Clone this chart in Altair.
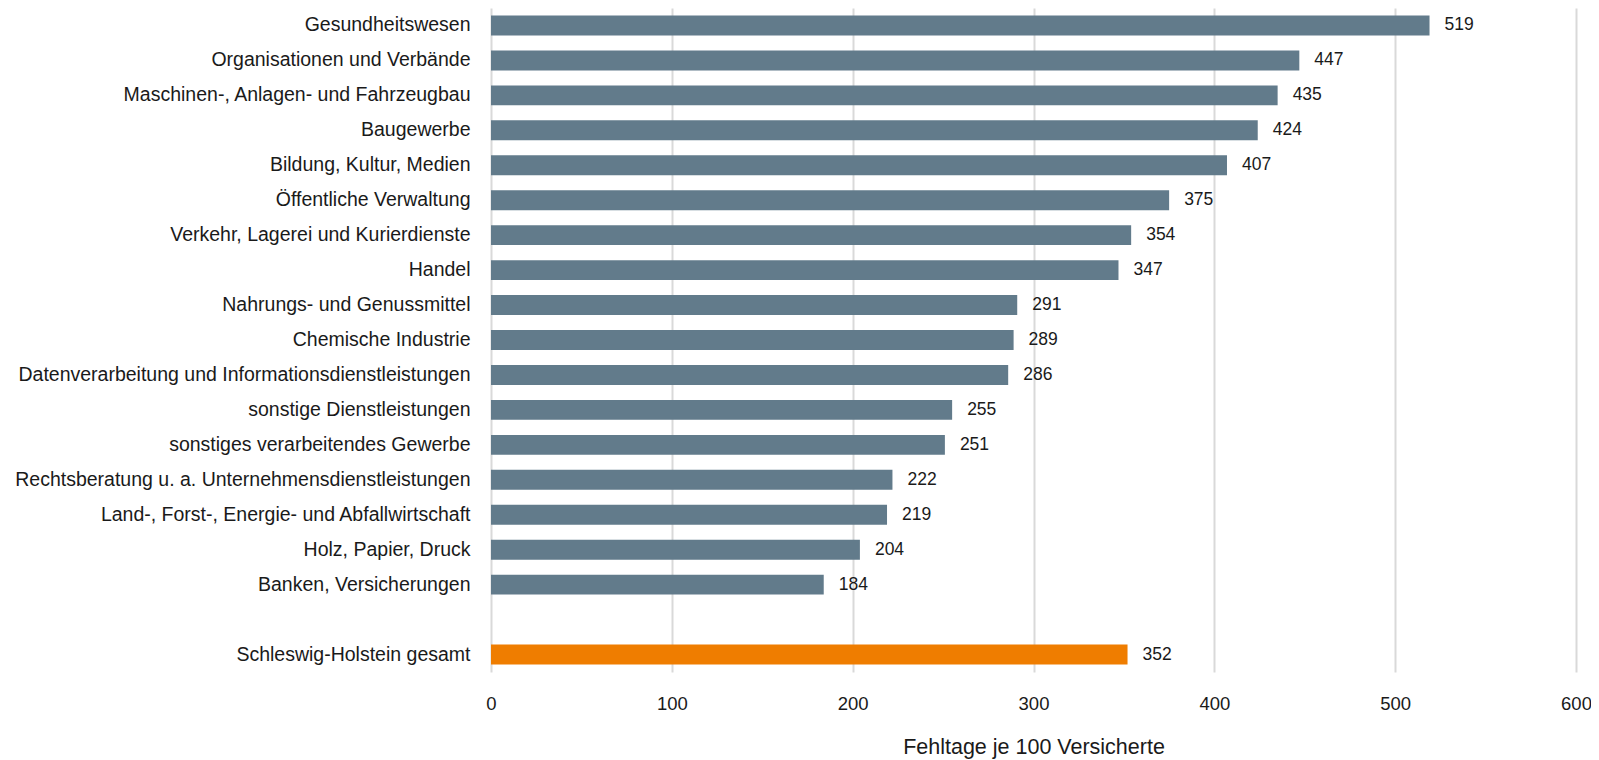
import altair as alt
import pandas as pd

categories = [
    "Gesundheitswesen",
    "Organisationen und Verbände",
    "Maschinen-, Anlagen- und Fahrzeugbau",
    "Baugewerbe",
    "Bildung, Kultur, Medien",
    "Öffentliche Verwaltung",
    "Verkehr, Lagerei und Kurierdienste",
    "Handel",
    "Nahrungs- und Genussmittel",
    "Chemische Industrie",
    "Datenverarbeitung und Informationsdienstleistungen",
    "sonstige Dienstleistungen",
    "sonstiges verarbeitendes Gewerbe",
    "Rechtsberatung u. a. Unternehmensdienstleistungen",
    "Land-, Forst-,  Energie- und Abfallwirtschaft",
    "Holz, Papier, Druck",
    "Banken, Versicherungen",
    "Schleswig-Holstein gesamt",
]
values = [519, 447, 435, 424, 407, 375, 354, 347, 291, 289, 286, 255, 251, 222, 219, 204, 184, 352]
groups = ["Branche"] * 17 + ["Gesamt"]

domain = categories[:17] + [" "] + categories[17:]

df = pd.DataFrame({"cat": categories, "val": values, "grp": groups})

FONT = "Liberation Sans, Arial, sans-serif"

y_enc = alt.Y(
    "cat:N",
    sort=domain,
    scale=alt.Scale(domain=domain, paddingInner=0.43, paddingOuter=0.215),
    axis=alt.Axis(
        title=None,
        labelFont=FONT,
        labelFontSize=19.5,
        labelColor="#1a1a1a",
        labelPadding=21,
        ticks=False,
        domain=False,
        grid=False,
        labelLimit=600,
    ),
)

bars = alt.Chart(df).mark_bar().encode(
    x=alt.X(
        "val:Q",
        scale=alt.Scale(domain=[0, 600], nice=False),
        axis=alt.Axis(
            title="Fehltage je 100 Versicherte",
            titleFont=FONT,
            titleFontSize=21.5,
            titleFontWeight="normal",
            titleColor="#1a1a1a",
            titlePadding=24,
            labelFont=FONT,
            labelFontSize=18.5,
            labelColor="#1a1a1a",
            labelPadding=22,
            labelFlush=False,
            values=[0, 100, 200, 300, 400, 500, 600],
            ticks=False,
            domain=False,
            grid=True,
            gridColor="#d9d9d9",
            gridWidth=2,
        ),
    ),
    y=y_enc,
    color=alt.Color(
        "grp:N",
        scale=alt.Scale(domain=["Branche", "Gesamt"], range=["#627b8b", "#ef7d00"]),
        legend=None,
    ),
)

labels = alt.Chart(df).mark_text(
    align="left", baseline="middle", dx=15, font=FONT, fontSize=17.5, color="#1a1a1a"
).encode(
    x=alt.X("val:Q"),
    y=alt.Y("cat:N", sort=domain),
    text=alt.Text("val:Q"),
)

chart = (
    alt.layer(bars, labels, view=alt.ViewBackground(stroke="transparent", strokeWidth=0))
    .properties(
        width=1085,
        height=664,
        autosize=alt.AutoSizeParams(type="none"),
        padding={"left": 483, "top": 0, "right": 15, "bottom": 88},
    )
    .configure_view(stroke="transparent", strokeWidth=0, strokeOpacity=0)
    .configure_axisY(grid=False)
    .configure(background="white")
)

chart.save("out.html", embed_options={"renderer": "svg", "actions": False})
